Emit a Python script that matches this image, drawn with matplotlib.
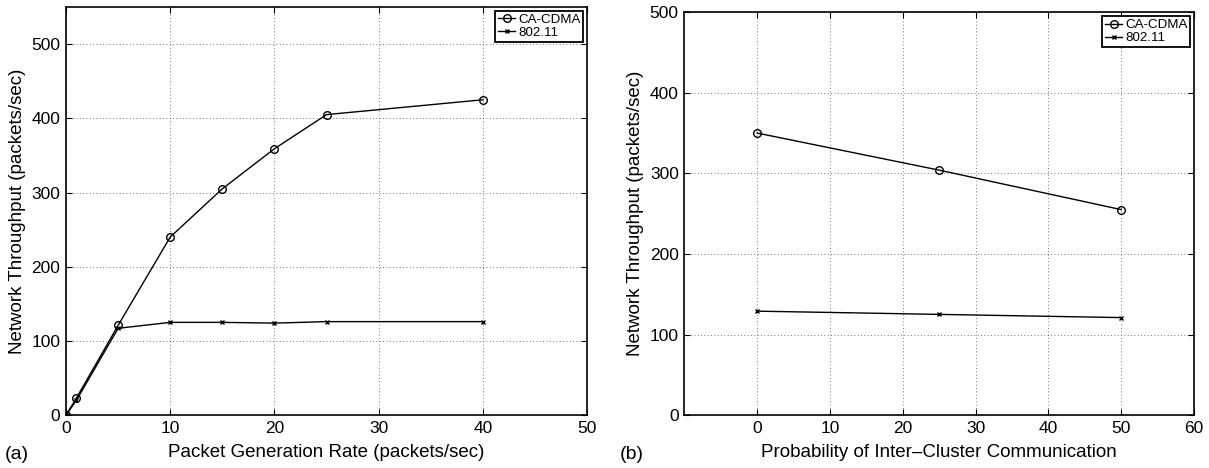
import numpy as np
import matplotlib.pyplot as plt

plt.rcParams['font.family'] = ['Liberation Sans', 'DejaVu Sans']

# (a) throughput vs packet generation rate
rate = [0, 1, 5, 10, 15, 20, 25, 40]
cdma_a = [0, 23, 121, 240, 305, 359, 405, 425]
wifi_a = [0, 20, 117, 125, 125, 124, 126, 126]

# (b) throughput vs probability of inter-cluster communication
prob = [0, 25, 50]
cdma_b = [350, 304, 255]
wifi_b = [129, 125, 121]

fig = plt.figure(figsize=(12.09, 4.68), dpi=100)
ax1 = fig.add_axes([0.0546, 0.113, 0.431, 0.872])
ax2 = fig.add_axes([0.566, 0.113, 0.4216, 0.861])


def style(ax):
    ax.grid(True, color="k", linestyle=(0, (1, 3)), linewidth=0.6, alpha=0.7)
    ax.tick_params(direction="in", top=True, right=True, labelsize=12.5,
                   length=4, pad=4)
    for s in ax.spines.values():
        s.set_linewidth(1.2)
    ax.set_ylabel("Network Throughput (packets/sec)", fontsize=13.5)
    leg = ax.legend(loc="upper right", fontsize=9.6, handlelength=1.3,
                    borderpad=0.2, labelspacing=0.05, handletextpad=0.2,
                    fancybox=False, framealpha=1, borderaxespad=0.3)
    leg.get_frame().set_edgecolor("k")
    leg.get_frame().set_linewidth(1.3)


ax1.plot(rate, cdma_a, color="k", linewidth=1.0, marker="o", markersize=5.5,
         markerfacecolor="none", label="CA-CDMA")
ax1.plot(rate, wifi_a, color="k", linewidth=1.0, marker="x", markersize=3.5,
         label="802.11")
ax1.set_xlim(0, 50)
ax1.set_ylim(0, 550)
ax1.set_xticks(np.arange(0, 51, 10))
ax1.set_yticks(np.arange(0, 501, 100))
ax1.set_xlabel("Packet Generation Rate (packets/sec)", fontsize=13.5, labelpad=6)
style(ax1)

ax2.plot(prob, cdma_b, color="k", linewidth=1.0, marker="o", markersize=5.5,
         markerfacecolor="none", label="CA-CDMA")
ax2.plot(prob, wifi_b, color="k", linewidth=1.0, marker="x", markersize=3.5,
         label="802.11")
ax2.set_xlim(-10, 60)
ax2.set_ylim(0, 500)
ax2.set_xticks(np.arange(0, 61, 10))
ax2.set_yticks(np.arange(0, 501, 100))
ax2.set_xlabel("Probability of Inter\u2013Cluster Communication", fontsize=13.5,
               labelpad=6)
style(ax2)

fig.text(0.004, 0.02, "(a)", fontsize=14)
fig.text(0.513, 0.02, "(b)", fontsize=14)

plt.savefig("out.png", dpi=100)
plt.close()
